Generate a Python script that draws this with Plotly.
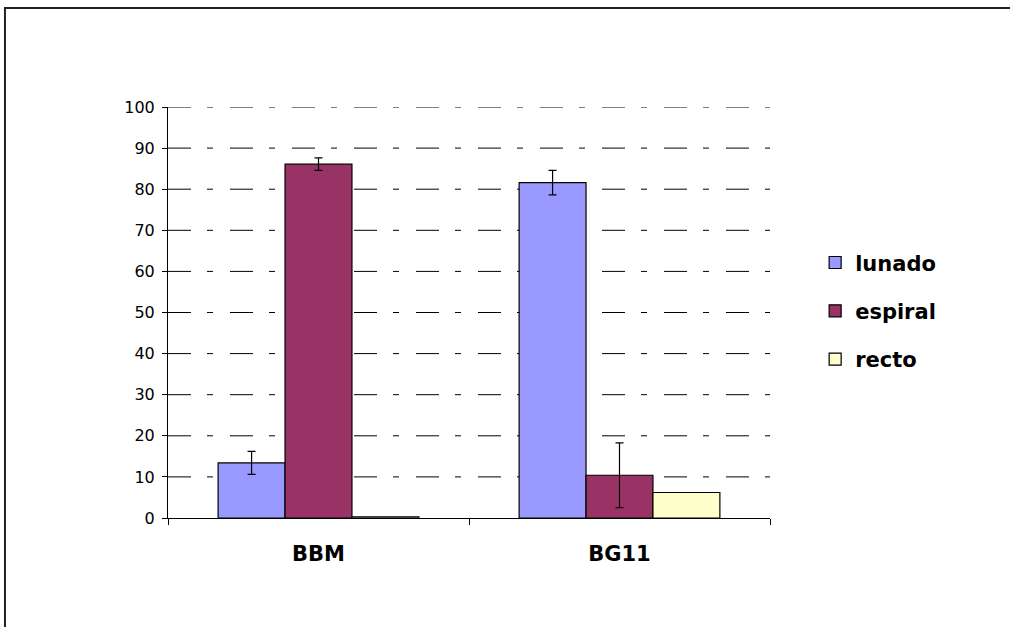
import plotly.graph_objects as go

categories = ["BBM", "BG11"]
series_names = ["lunado", "espiral", "recto"]
lunado = [13.4, 81.6]
espiral = [86.1, 10.4]
recto = [0.3, 6.2]
lunado_err = [2.8, 3.0]
espiral_err = [1.5, 7.9]
recto_err = [0, 0]
colors = ["#9999FF", "#993366", "#FFFFCC"]
y_ticks = list(range(0, 101, 10))

fig = go.Figure()
for i, (name, vals, errs) in enumerate(zip(series_names, [lunado, espiral, recto],
                                            [lunado_err, espiral_err, recto_err])):
    fig.add_trace(go.Bar(
        x=categories, y=vals, name=name, legendgroup=name,
        marker=dict(color=colors[i], line=dict(color="#000000", width=1.2)),
        error_y=dict(type="data", array=errs, visible=any(e > 0 for e in errs),
                     color="#000000", thickness=1.2, width=4),
    ))

# dashed gridlines (long-short pattern) drawn left to right at each tick value
grid_shapes = [dict(type="line", xref="paper", yref="y", x0=0, x1=1, y0=v, y1=v,
                    line=dict(color="#000000", width=1, dash="23px,16px,6px,17px"),
                    layer="below")
               for v in y_ticks if v > 0]

border = dict(type="rect", xref="paper", yref="paper",
              x0=-0.2708, x1=1.6, y0=-0.6, y1=1.2409,
              line=dict(color="#222222", width=2), layer="below")

fig.update_layout(
    width=1010, height=627,
    margin=dict(l=168, r=240, t=107, b=109),
    paper_bgcolor="white", plot_bgcolor="rgba(0,0,0,0)",
    barmode="group", bargap=0.333, bargroupgap=0,
    font=dict(family="DejaVu Sans, Verdana, sans-serif", color="#000000"),
    showlegend=True,
    legend=dict(x=1.075, y=0.504, xanchor="left", yanchor="middle",
                font=dict(size=21, family="DejaVu Sans, Verdana, sans-serif", weight="bold"),
                tracegroupgap=18, traceorder="grouped", itemwidth=30),
    xaxis=dict(type="category", showline=True, linecolor="#000000", linewidth=1,
               ticks="outside", ticklen=6, tickcolor="#000000", tickson="boundaries",
               tickfont=dict(size=21, weight="bold"), ticklabelstandoff=17,
               showgrid=False),
    yaxis=dict(range=[0, 100], tickvals=y_ticks, showline=True, linecolor="#000000",
               linewidth=1, ticks="outside", ticklen=5, tickcolor="#000000",
               tickfont=dict(size=16), ticklabelstandoff=4,
               showgrid=False, zeroline=False),
    shapes=[border] + grid_shapes,
)

fig.write_html("out.html", post_script="document.body.style.margin='0';",
               config={"displayModeBar": False})
